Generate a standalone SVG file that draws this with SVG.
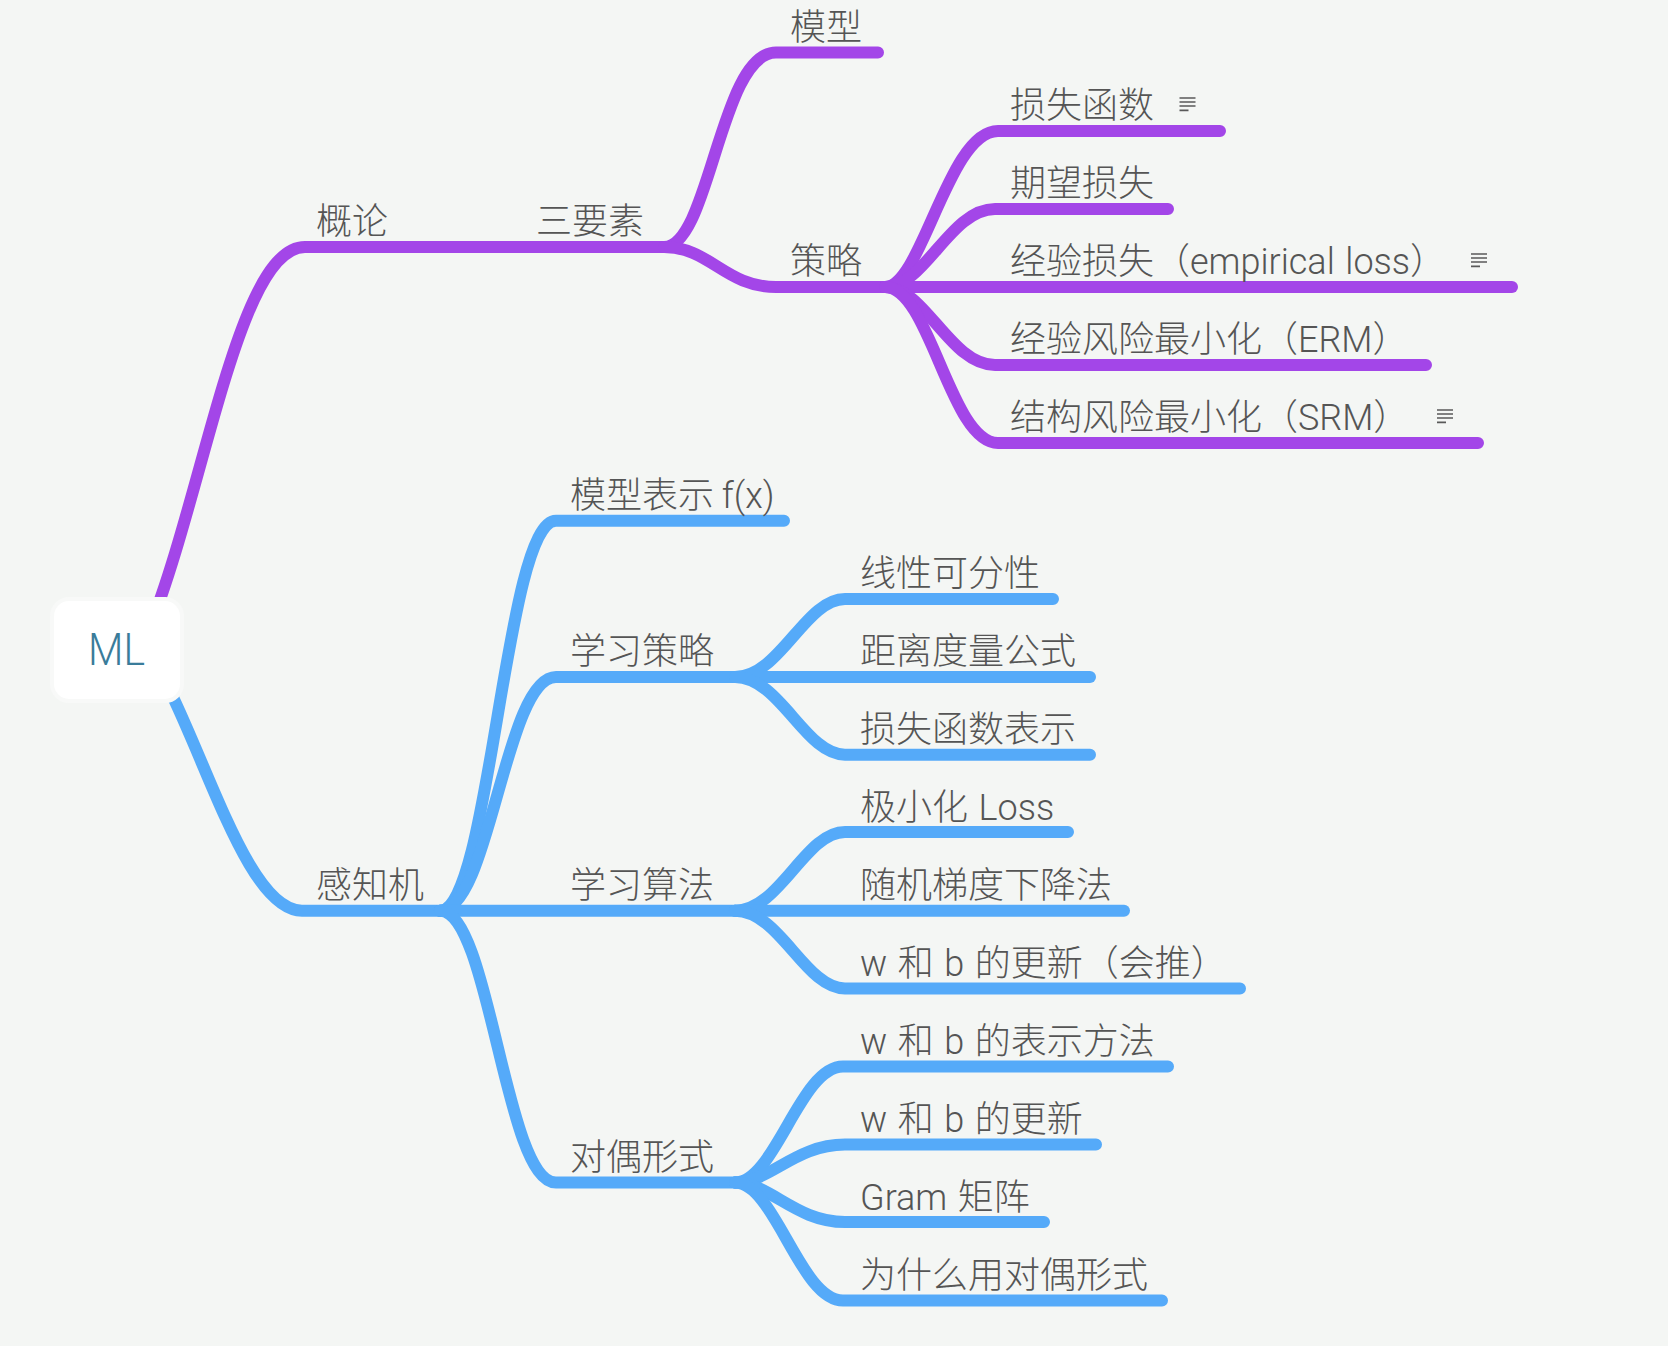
<svg xmlns="http://www.w3.org/2000/svg" width="1668" height="1346" viewBox="0 0 1668 1346">
<style>
.bg{fill:#f4f6f4}
.c{fill:none;stroke-width:12;stroke-linecap:round;stroke-linejoin:round}
.p{stroke:#a346e8}
.b{stroke:#55aaf9}
text{font-family:Roboto,"Noto Sans CJK SC",sans-serif;font-size:36px;fill:#555;font-weight:300;word-spacing:1.8px}
.root{font-family:Roboto,"Liberation Sans",sans-serif;font-size:44px;fill:#3a7c9a;font-weight:300;text-anchor:middle}
.n{stroke:#595959;stroke-width:1.7;fill:none}
</style>
<defs>
<g id="note"><path class="n" d="M0 1H16M0 5H16M0 9H16M0 13.300H9"/></g>
</defs>
<rect class="bg" width="1668" height="1346"/>
<g id="connectors">
<g class="c p">
<path d="M148 632C205 490 238 247 305 247H664"/>
<path d="M664 247C710 247 720 52.500 776 52.500H878"/>
<path d="M664 247C710 247 725 287 776 287H885"/>
<path d="M885 287C922 287 948 131 998 131H1220"/>
<path d="M885 287C925 287 950 209 995 209H1168"/>
<path d="M885 287H1512"/>
<path d="M885 287C925 287 950 365 995 365H1426"/>
<path d="M885 287C930 287 950 443 998 443H1478"/>
</g>
<g class="c b">
<path d="M140 640C195 710 240 910.700 302 910.700H440"/>
<path d="M440 910.700C490 910.700 505 520.700 556 520.700H784"/>
<path d="M440 910.700C490 910.700 505 677 556 677H735"/>
<path d="M440 910.700H735"/>
<path d="M440 910.700C490 910.700 505 1182.600 556 1182.600H735"/>
<path d="M735 677C780 677 805 599 845 599H1053"/>
<path d="M735 677H1090"/>
<path d="M735 677C780 677 805 754.700 845 754.700H1090"/>
<path d="M735 910.700C780 910.700 805 832 845 832H1068"/>
<path d="M735 910.700H1124"/>
<path d="M735 910.700C780 910.700 805 988.500 845 988.500H1240"/>
<path d="M735 1182.600C775 1182.600 800 1066.600 843 1066.600H1168"/>
<path d="M735 1182.600C770 1182.600 795 1144.600 845 1144.600H1096"/>
<path d="M735 1182.600C770 1182.600 795 1222 845 1222H1044"/>
<path d="M735 1182.600C775 1182.600 800 1300.500 843 1300.500H1162"/>
</g>
</g>
<g id="root"><rect x="52" y="599" width="130" height="102" rx="17" fill="#fff" stroke="#f8f9f8" stroke-width="4"/><text class="root" x="116.500" y="665" textLength="57" lengthAdjust="spacingAndGlyphs">ML</text></g>
<g id="n1"><text x="316" y="234">概论</text></g>
<g id="n2"><text x="536" y="234">三要素</text></g>
<g id="n3"><text x="790" y="40">模型</text></g>
<g id="n4"><text x="790" y="274">策略</text></g>
<g id="n5"><text x="1010" y="117.500">损失函数</text><use href="#note" x="1179.500" y="97"/></g>
<g id="n6"><text x="1010" y="195.500">期望损失</text></g>
<g id="n7"><text x="1010" y="273.500">经验损失（empirical loss）</text><use href="#note" x="1471" y="253"/></g>
<g id="n8"><text x="1010" y="351.500">经验风险最小化（ERM）</text></g>
<g id="n9"><text x="1010" y="429.500">结构风险最小化（SRM）</text><use href="#note" x="1437" y="409"/></g>
<g id="n10"><text x="316" y="898">感知机</text></g>
<g id="n11"><text x="570" y="507.500" style="word-spacing:-1px">模型表示 f(x)</text></g>
<g id="n12"><text x="570" y="664">学习策略</text></g>
<g id="n13"><text x="570" y="898">学习算法</text></g>
<g id="n14"><text x="570" y="1170">对偶形式</text></g>
<g id="n15"><text x="860" y="585.500">线性可分性</text></g>
<g id="n16"><text x="860" y="663.500">距离度量公式</text></g>
<g id="n17"><text x="860" y="742">损失函数表示</text></g>
<g id="n18"><text x="860" y="820">极小化 Loss</text></g>
<g id="n19"><text x="860" y="898">随机梯度下降法</text></g>
<g id="n20"><text x="860" y="976">w 和 b 的更新（会推）</text></g>
<g id="n21"><text x="860" y="1054">w 和 b 的表示方法</text></g>
<g id="n22"><text x="860" y="1132">w 和 b 的更新</text></g>
<g id="n23"><text x="860" y="1210">Gram 矩阵</text></g>
<g id="n24"><text x="860" y="1288">为什么用对偶形式</text></g>
</svg>
